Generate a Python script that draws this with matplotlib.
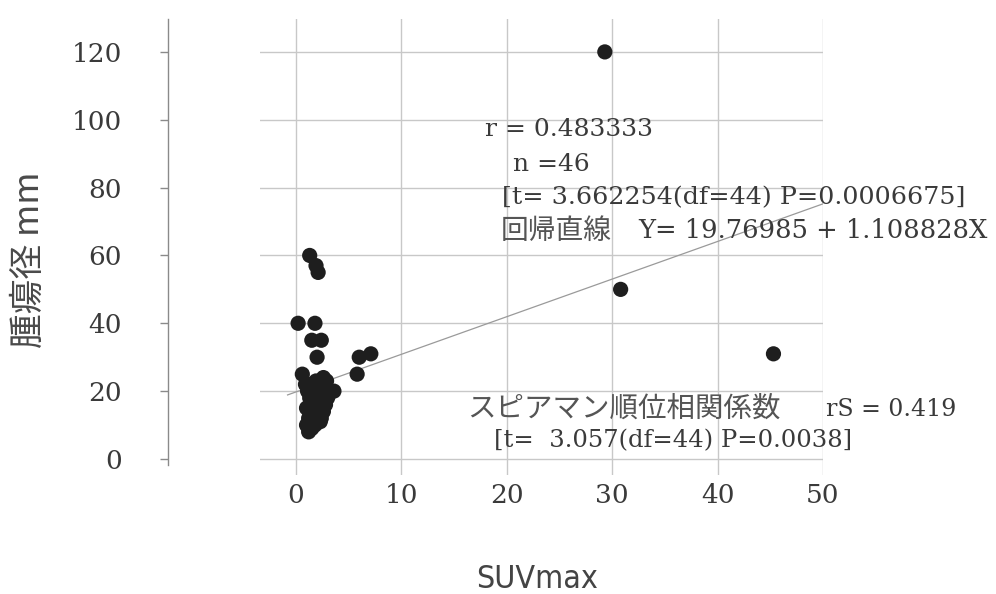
import matplotlib
matplotlib.use("Agg")
import matplotlib.pyplot as plt
import numpy as np

# ---- data ----
suv = [29.3, 30.8, 45.3,
       6.0, 7.1, 5.8,
       1.3, 1.9, 2.1, 0.2, 1.8, 1.5, 2.4, 2.0,
       0.6, 0.9, 1.1, 1.3, 1.0, 1.2, 1.0, 1.2, 1.5, 1.8, 1.6, 2.0, 1.5, 1.8,
       2.2, 2.5, 2.2, 2.7, 2.6, 2.9, 3.1, 3.6, 2.0, 1.6, 2.3, 2.6, 1.4, 1.9,
       2.8, 3.0, 1.3, 2.4]
diam = [120, 50, 31,
        30, 31, 25,
        60, 57, 55, 40, 40, 35, 35, 30,
        25, 22, 20, 18, 15, 12, 10, 8, 9, 10, 12, 13, 15, 16,
        15, 18, 20, 22, 24, 23, 20, 20, 18, 20, 11, 14, 22, 23,
        16, 18, 14, 12]
intercept = 19.76985
slope = 1.108828
line_x_range = [-0.8, 50]

x_ticks = [0, 10, 20, 30, 40, 50]
y_ticks = [0, 20, 40, 60, 80, 100, 120]

txt_r = "r = 0.483333"
txt_n = "n =46"
txt_t = "[t= 3.662254(df=44) P=0.0006675]"
txt_reg_jp = "回帰直線"
txt_reg_eq = "Y= 19.76985 + 1.108828X"
txt_sp_jp = "スピアマン順位相関係数"
txt_sp_r = "rS = 0.419"
txt_sp_t = "[t=  3.057(df=44) P=0.0038]"

W, H = 996, 594
fig = plt.figure(figsize=(W / 100, H / 100), dpi=100)
fig.patch.set_facecolor("white")

def fx(px):
    return px / W

def fy(py):
    return 1 - py / H

ax = fig.add_axes([fx(260), fy(475), (823 - 260) / W, (475 - 19) / H])
ax.set_xlim(-3.415, 50)
ax.set_ylim(-4.72, 129.7)

for s in ["top", "right", "bottom"]:
    ax.spines[s].set_visible(False)
ax.spines["left"].set_position(("outward", 66.2))
ax.spines["left"].set_color("#8a8a8a")
ax.spines["left"].set_linewidth(1.0)
ax.spines["left"].set_bounds(-1.8, 129.7)

serif = ["DejaVu Serif", "Noto Sans CJK JP"]
cjk = ["Noto Sans CJK JP", "DejaVu Sans"]
txtcol = "#3a3a3a"

ax.set_xticks(x_ticks)
ax.set_yticks(y_ticks)
ax.tick_params(axis="x", length=0, pad=6, labelsize=19, labelcolor=txtcol)
ax.tick_params(axis="y", length=6, width=1, color="#8a8a8a", pad=27,
               labelsize=19, labelcolor=txtcol)
for lab in ax.get_xticklabels() + ax.get_yticklabels():
    lab.set_family(serif)

ax.grid(True, color="#c8c8c8", linewidth=1.0)
ax.set_axisbelow(True)

lx = np.array(line_x_range)
ax.plot(lx, intercept + slope * lx, color="#9a9a9a", linewidth=0.9, zorder=2)
ax.scatter(suv, diam, s=120, color="#1e1e1e", edgecolors="none", zorder=3)

def put(t, px, py, size, fam, col=txtcol):
    fig.text(fx(px), fy(py), t, ha="left", va="center", fontsize=size,
             family=fam, color=col)

put(txt_r, 485, 130, 18, serif)
put(txt_n, 513, 164, 18, serif)
put(txt_t, 502, 198, 18.3, serif)
put(txt_reg_jp, 501, 231, 20, cjk, "#555555")
put(txt_reg_eq, 638, 231, 18.5, serif)
put(txt_sp_jp, 467, 409, 20.5, cjk, "#555555")
put(txt_sp_r, 826, 409, 17, serif)
put(txt_sp_t, 494, 441, 17.5, serif)

# axis labels
fig.text(fx(29), fy(260), "腫瘍径 mm", rotation=90, ha="center", va="center",
         fontsize=25, family=cjk, color="#4a4a4a")
fig.text(fx(537), fy(579), "SUVmax", ha="center", va="center", fontsize=23,
         family="DejaVu Sans", fontstretch="condensed", color="#444444")

fig.savefig("out.png", dpi=100, facecolor="white")
